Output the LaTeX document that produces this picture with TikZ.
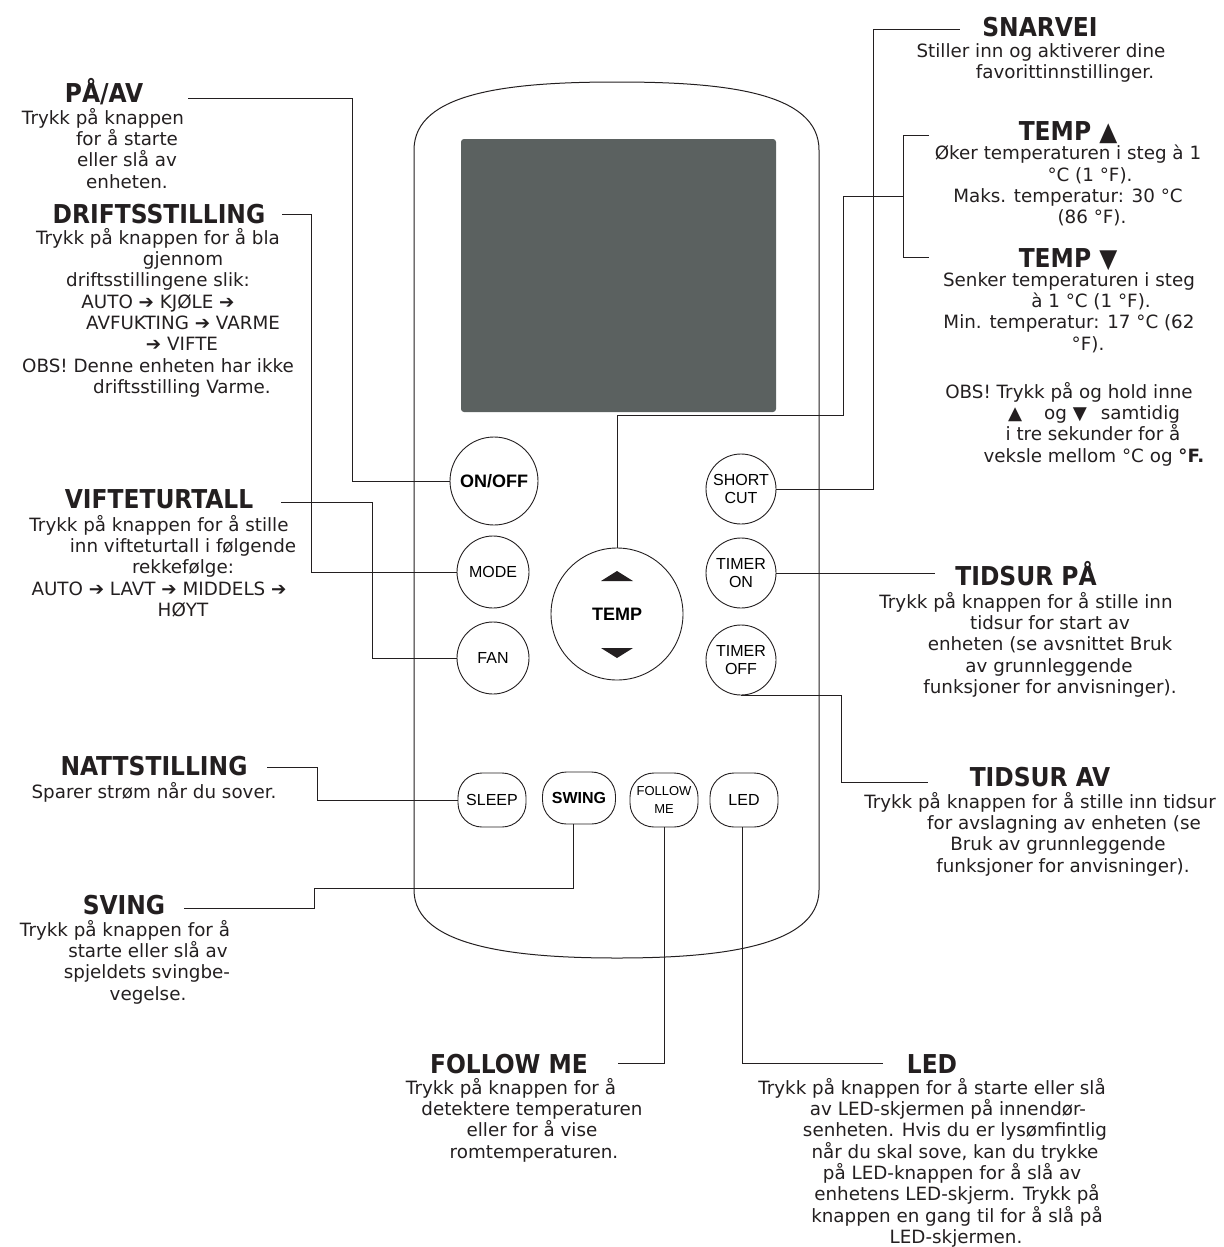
\documentclass[tikz,border=0pt]{standalone}
\usepackage{fontspec}
\usepackage{tikz}
\usetikzlibrary{positioning, calc}
\setmainfont{DejaVu Sans}
\newfontfamily\headfont{DejaVu Sans Condensed Bold}
\newfontfamily\keyfont{Liberation Sans}
\definecolor{myink}{RGB}{35,31,32}
\definecolor{myscreen}{RGB}{91,97,96}
\newcommand{\pad}[1]{\hspace*{#1pt}}
\tikzset{
  head/.style={font=\headfont\fontsize{26}{30}\selectfont, text=myink, inner sep=0pt, anchor=base},
  body/.style={font=\fontsize{18.3}{21.3}\selectfont, text=myink, align=center, inner sep=0pt,
    anchor=north, yshift=14.91pt, execute at begin node=\strut},
  wire/.style={line width=1pt, color=myink},
  roundkey/.style={circle, draw=myink, line width=0.9pt, inner sep=0pt, align=center,
    font=\keyfont\fontsize{16}{18}\selectfont},
  flatkey/.style={rectangle, rounded corners=24pt, draw=myink, line width=0.9pt, inner sep=0pt,
    minimum width=68pt, minimum height=54pt, align=center, font=\keyfont\fontsize{16}{18}\selectfont}
}

\begin{document}
\begin{tikzpicture}[x=1pt, y=-1pt]
  \useasboundingbox (0,0) rectangle (1223,1247);

  % remote body and screen
  \draw[line width=1pt, myink] (414,890) -- (414,150) .. controls (414,92) and (510,82) .. (617,82)
    .. controls (724,82) and (819,92) .. (819,150) -- (819,890)
    .. controls (819,948) and (714,958) .. (617,958) .. controls (520,958) and (414,948) .. (414,890) -- cycle;
  \fill[myscreen, rounded corners=3pt] (461,139) rectangle (776,412);

  % keys
  \node[roundkey, minimum size=88pt, font=\keyfont\fontsize{18}{20}\selectfont\bfseries] (onoff) at (494,481) {ON/OFF};
  \node[roundkey, minimum size=72pt] (mode) at (493,572) {MODE};
  \node[roundkey, minimum size=72pt] (fan) at (493,658) {FAN};
  \node[roundkey, minimum size=132pt, font=\keyfont\fontsize{18}{20}\selectfont\bfseries] (temp) at (617,614) {TEMP};
  \fill[myink] ($(temp.center)+(-16,-33)$) -- ++(32,0) -- ++(-16,-10) -- cycle;
  \fill[myink] ($(temp.center)+(-16,34)$) -- ++(32,0) -- ++(-16,10) -- cycle;
  \node[roundkey, minimum size=70pt] (short) at (741,489) {SHORT\\CUT};
  \node[roundkey, minimum size=70pt] (timeron) at (741,573) {TIMER\\ON};
  \node[roundkey, minimum size=70pt] (timeroff) at (741,660) {TIMER\\OFF};
  \node[flatkey] (sleep) at (492,800) {SLEEP};
  \node[flatkey, minimum width=73pt, minimum height=52pt, font=\keyfont\fontsize{16}{18}\selectfont\bfseries] (swing) at (579,798) {SWING};
  \node[flatkey, font=\keyfont\fontsize{13}{18}\selectfont] (follow) at (664,800) {FOLLOW\\ME};
  \node[flatkey] (led) at (744,800) {LED};

  % left labels
  \node[head] (tpaav) at (104,102) {PÅ/AV};
  \node[body] (bpaav) at (103,123) {Trykk på knappen\\ \pad{48}for å starte\\ \pad{48}eller slå av\\ \pad{48}enheten.};
  \node[head] (tdrift) at (159,223) {DRIFTSSTILLING};
  \node[body] (bdrift) at (158,243) {Trykk på knappen for å bla\\ \pad{50}gjennom\\ driftsstillingene slik:\\
    AUTO ➔ KJØLE ➔\\ \pad{50}AVFUKTING ➔ VARME\\ \pad{48}➔ VIFTE\\ OBS! Denne enheten har ikke\\ \pad{48}driftsstilling Varme.};
  \node[head] (tvifte) at (159,508) {VIFTETURTALL};
  \node[body] (bvifte) at (159,530) {Trykk på knappen for å stille\\ \pad{48}inn vifteturtall i følgende\\
    \pad{48}rekkefølge:\\ AUTO ➔ LAVT ➔ MIDDELS ➔\\ \pad{48}HØYT};
  \node[head] (tnatt) at (154,775) {NATTSTILLING};
  \node[body] (bnatt) at (154,797) {Sparer strøm når du sover.};
  \node[head] (tsving) at (124,914) {SVING};
  \node[body] (bsving) at (125,935) {Trykk på knappen for å\\ \pad{46}starte eller slå av\\ \pad{44}spjeldets svingbe-\\ \pad{46}vegelse.};

  % bottom labels
  \node[head] (tfollow) at (509,1073) {FOLLOW ME};
  \node[body] (bfollow) at (511,1093) {Trykk på knappen for å\\ \pad{42}detektere temperaturen\\ \pad{42}eller for å vise\\ \pad{46}romtemperaturen.};
  \node[head] (tled) at (932,1073) {LED};
  \node[body] (bled) at (932,1093) {Trykk på knappen for å starte eller slå\\ \pad{32}av LED-skjermen på innendør-\\
    \pad{46}senheten. Hvis du er lysømfintlig\\ \pad{46}når du skal sove, kan du trykke\\ \pad{40}på LED-knappen for å slå av\\
    \pad{50}enhetens LED-skjerm. Trykk på\\ \pad{50}knappen en gang til for å slå på\\ \pad{48}LED-skjermen.};

  % right labels
  \node[head] (tsnar) at (1040,37) {SNARVEI};
  \node[body] (bsnar) at (1041,58) {Stiller inn og aktiverer dine\\ \pad{48}favorittinnstillinger.};
  \node[head] (ttempup) at (1068,140) {TEMP ▲};
  \node[body] (btempup) at (1068,160) {Øker temperaturen i steg à 1\\ \pad{44}°C (1 °F).\\ Maks. temperatur: 30 °C\\ \pad{48}(86 °F).};
  \node[head] (ttempdn) at (1068,267) {TEMP ▼};
  \node[body] (btempdn) at (1069,287) {Senker temperaturen i steg\\ \pad{44}à 1 °C (1 °F).\\ Min. temperatur: 17 °C (62\\ \pad{38}°F).};
  \node[body] (bobs) at (1069,397) {OBS! Trykk på og hold inne\\ \pad{50}▲\hspace{22pt}og ▼\hspace{14pt}samtidig\\
    \pad{48}i tre sekunder for å\\ \pad{50}veksle mellom °C og \textbf{°F.}};
  \node[head] (ttidpa) at (1026,585) {TIDSUR PÅ};
  \node[body] (btidpa) at (1026,607) {Trykk på knappen for å stille inn\\ \pad{48}tidsur for start av\\ \pad{48}enheten (se avsnittet Bruk\\
    \pad{46}av grunnleggende\\ \pad{48}funksjoner for anvisninger).};
  \node[head] (ttidav) at (1040,786) {TIDSUR AV};
  \node[body] (btidav) at (1040,807) {Trykk på knappen for å stille inn tidsur\\ \pad{48}for avslagning av enheten (se\\
    \pad{36}Bruk av grunnleggende\\ \pad{46}funksjoner for anvisninger).};

  % free ends of the leader lines
  \coordinate (cpaav) at (188,98);
  \coordinate (cdrift) at (282,214);
  \coordinate (cvifte) at (281,502);
  \coordinate (cnatt) at (267,767);
  \coordinate (csving) at (184,908);
  \coordinate (cfollow) at (618,1063);
  \coordinate (cled) at (883,1063);
  \coordinate (csnar) at (960,30);
  \coordinate (cbrk) at (903,196);
  \coordinate (ctu) at (929,135);
  \coordinate (ctd) at (929,257);
  \coordinate (ctpa) at (935,573);
  \coordinate (ctav) at (928,782);

  % leader lines
  \draw[wire] (cpaav) -- ++(164,0) |- (onoff);
  \draw[wire] (cdrift) -- ++(29,0) |- (mode);
  \draw[wire] (cvifte) -- ++(91,0) |- (fan);
  \draw[wire] (cnatt) -- ++(50,0) |- (sleep);
  \draw[wire] (csving) -- ++(130,0) -- ++(0,-20) -| ([xshift=-6pt]swing.south);
  \draw[wire] (follow.south) |- (cfollow);
  \draw[wire] ([xshift=-2pt]led.south) |- (cled);
  \draw[wire] (short.east) -- ++(97,0) |- (csnar);
  \draw[wire] (temp.north) -- ++(0,-132) -- ++(226,0) |- (cbrk);
  \draw[wire] (ctu) -| (cbrk) |- (ctd);
  \draw[wire] (timeron.east) -- (ctpa);
  \draw[wire] (timeroff.south) -- ++(100,0) |- (ctav);
\end{tikzpicture}
\end{document}
